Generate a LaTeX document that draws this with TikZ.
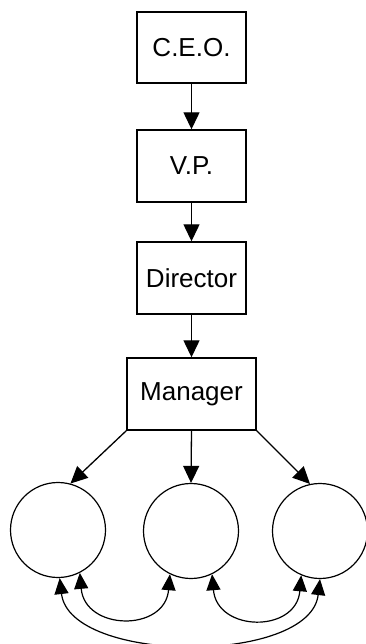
\documentclass[tikz,border=0pt]{standalone}
\usepackage{fontspec}
\setmainfont{Liberation Sans}
\usetikzlibrary{arrows.meta}
\begin{document}
\begin{tikzpicture}[x=1pt,y=-1pt,
  rolebox/.style={draw,line width=1.4pt,inner sep=0pt,font=\fontsize{26}{30}\selectfont},
  team/.style={draw,circle,line width=1.2pt,inner sep=0pt,minimum size=95pt},
  link/.style={line width=1.3pt,-{Triangle[length=17pt,width=16pt]}},
  both/.style={line width=1.2pt,{Triangle[length=16pt,width=14pt]}-{Triangle[length=16pt,width=14pt]}}]
\useasboundingbox (0,0) rectangle (365,644);
\node[rolebox,minimum width=109pt,minimum height=71pt] (ceo) at (191.5,47.5) {C.E.O.};
\node[rolebox,minimum width=109pt,minimum height=72pt] (vp) at (191.5,166) {V.P.};
\node[rolebox,minimum width=109pt,minimum height=72pt] (dir) at (191.5,278) {Director};
\node[rolebox,minimum width=129pt,minimum height=72pt] (man) at (191.5,394) {Manager};
\node[team] (l) at (58,530) {};
\node[team] (m) at (191,531) {};
\node[team] (r) at (320,531) {};
\draw[link] (ceo) -- (vp);
\draw[link] (vp) -- (dir);
\draw[link] (dir) -- (man);
\draw[link] (man.south west) -- (l.75);
\draw[link] (man.south) -- (m.north);
\draw[link] (man.south east) -- (r.102);
\draw[both] (l.-63) .. controls +(5,58) and +(-5,58) .. (m.-116);
\draw[both] (m.-64) .. controls +(5,58) and +(-5,58) .. (r.-113);
\draw[both] (l.-88) .. controls +(10,86) and +(-10,86) .. (r.-90);
\end{tikzpicture}
\end{document}
